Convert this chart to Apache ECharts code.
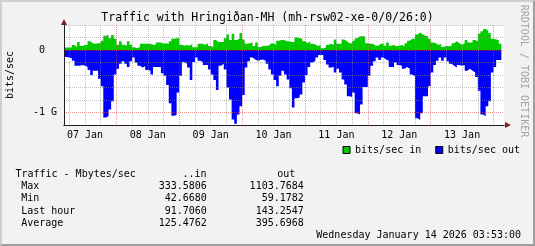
<!DOCTYPE html>
<html><head><meta charset="utf-8">
<script src="https://cdn.jsdelivr.net/npm/echarts@6/dist/echarts.min.js"></script>
<style>
html,body{margin:0;padding:0;background:#f2f2f2;}
#wrap{position:relative;width:535px;height:246px;}
#chart{position:absolute;left:0;top:0;width:535px;height:246px;}
#frame{position:absolute;left:0;top:0;width:535px;height:246px;box-sizing:border-box;border-style:solid;border-width:2px;border-color:#cfcfcf #9e9e9e #9e9e9e #cfcfcf;pointer-events:none;}
</style></head>
<body><div id="wrap"><div id="chart"></div><div id="frame"></div></div>
<script>
const MONO = '"DejaVu Sans Mono", monospace';
const chartTitle = 'Traffic with Hringiðan-MH (mh-rsw02-xe-0/0/26:0)';
const days = ['07 Jan','08 Jan','09 Jan','10 Jan','11 Jan','12 Jan','13 Jan','14 Jan'];
const firstHour = 4;          // first hourly slot: 07 Jan 04:00
const slotCount = 168;        // plot spans 7 days of hourly slots
const seriesNames = ['bits/sec in', 'bits/sec out'];
// hourly averages, Mbit/s
const inMbps = [
40,40,40,80,50,130,65,80,80,140,
110,100,110,110,150,230,240,190,240,180,
86,140,86,70,140,86,43,30,50,100,
100,100,100,86,80,120,120,100,110,100,
140,180,190,190,86,70,80,70,100,43,
43,100,100,86,110,65,50,160,130,130,
130,190,250,160,260,160,180,270,170,100,
110,120,65,120,50,65,70,70,100,110,
86,150,160,160,140,140,130,130,200,190,
180,140,110,140,100,90,60,86,30,40,
80,100,80,170,100,100,170,140,110,110,
150,190,220,220,220,110,100,100,70,70,
100,110,70,120,70,
80,60,70,80,60,110,150,180,180,250,
280,250,230,220,180,120,110,80,100,50,
65,60,65,110,140,110,86,110,160,120,
120,160,140,260,300,335,310,270,180,170,
160,100];
const outMbps = [
110,120,130,170,250,250,240,250,270,320,
400,330,330,460,580,1080,1060,950,820,390,
300,220,180,220,270,180,120,200,250,280,
260,320,330,390,270,270,270,370,410,560,
850,1050,1040,680,410,190,220,280,480,190,
120,170,190,240,240,310,390,480,640,250,
220,310,600,790,1110,1180,1030,900,720,280,
180,120,150,170,160,150,170,220,310,390,
480,580,410,330,390,470,610,920,770,760,
710,520,400,270,200,170,120,80,80,160,
230,280,270,360,300,360,470,550,740,750,
680,1010,1030,870,590,590,410,250,180,120,
160,120,150,170,270,
270,200,240,250,300,270,300,390,420,1090,
1120,1010,740,740,580,360,240,170,120,170,
120,180,220,250,280,240,250,240,330,300,
330,360,430,650,1030,1060,900,820,360,270,
160,160];
const yTickValues = [0, -1000];
const yTickTexts = ['0', '-1 G'];
const statLabels = ['Max', 'Min', 'Last hour', 'Average'];
const statIn = ['333.5806', '42.6680', '91.7060', '125.4762'];
const statOut = ['1103.7684', '59.1782', '143.2547', '395.6968'];
const tableHeader = ['Traffic - Mbytes/sec', '..in', 'out'];
const stamp = 'Wednesday January 14 2026 03:53:00';
const watermark = 'RRDTOOL / TOBI OETIKER';

// hour-boundary categories for the grid lines / day labels
const cats = [];
for (let k = 0; k <= slotCount; k++) {
  const h = firstHour + k;
  cats.push(days[Math.floor(h / 24)] + '|' + (h % 24));
}
const hourOf = i => (firstHour + i) % 24;

function stepPairs(vals, sign) {
  const out = [];
  vals.forEach((v, i) => { const x0 = firstHour + i; out.push([x0, sign * v], [x0 + 1, sign * v]); });
  return out;
}

const GRID = 'rgba(143,143,143,0.55)';
const MGRID = 'rgba(222,79,79,0.6)';
const AXIS = '#1f1f1f';
const ARROW = '#801f1f';

const chart = echarts.init(document.getElementById('chart'), null, {renderer: 'canvas'});
const txt = (x, y, text, align) => ({
  type: 'text', x: x, y: y, silent: true,
  style: {text: text, fill: '#000', font: '10px ' + MONO, align: align, verticalAlign: 'middle', textAlign: align, textVerticalAlign: 'middle'}
});
const graphics = [
  txt(15.4, 174, tableHeader[0], 'left'),
  txt(206.5, 174, tableHeader[1], 'right'),
  txt(295.2, 174, tableHeader[2], 'right')
];
statLabels.forEach((s, r) => {
  const y = 186.5 + r * 12.3;
  graphics.push(txt(21.2, y, s, 'left'));
  graphics.push(txt(206.8, y, statIn[r], 'right'));
  graphics.push(txt(303.8, y, statOut[r], 'right'));
});
graphics.push(txt(521, 235.7, stamp, 'right'));
graphics.push({
  type: 'text', x: 524, y: 71, rotation: -Math.PI / 2, silent: true,
  style: {text: watermark, fill: '#a3a3a3', font: '10px ' + MONO, align: 'center', verticalAlign: 'middle', textAlign: 'center', textVerticalAlign: 'middle'}
});

chart.setOption({
  animation: false,
  backgroundColor: '#f2f2f2',
  title: {
    text: chartTitle, left: 'center', top: 12, padding: 0,
    textStyle: {fontFamily: MONO, fontSize: 11.5, fontWeight: 'normal', color: '#000'}
  },
  legend: {
    data: seriesNames, right: 15, top: 145, padding: 0,
    itemWidth: 7, itemHeight: 7, itemGap: 14, icon: 'rect', selectedMode: false,
    itemStyle: {borderColor: '#000', borderWidth: 1},
    textStyle: {fontFamily: MONO, fontSize: 10, color: '#000'}
  },
  grid: {left: 64, top: 25, width: 440, height: 100, show: true, backgroundColor: '#ffffff', borderWidth: 0,
    containLabel: false, outerBoundsMode: 'none'},
  xAxis: [
    {
      type: 'value', min: firstHour, max: firstHour + slotCount, position: 'bottom', z: 6,
      axisLine: {show: true, onZero: false, lineStyle: {color: AXIS, width: 1}},
      axisTick: {show: false}, axisLabel: {show: false}, splitLine: {show: false}
    },
    {
      type: 'category', data: cats, boundaryGap: false, position: 'bottom', z: 5,
      axisLine: {show: false, onZero: false}, axisTick: {show: false},
      axisLabel: {
        interval: (i) => hourOf(i) === 12, margin: 5,
        formatter: v => v.split('|')[0],
        fontFamily: MONO, fontSize: 10, color: '#000'
      },
      splitLine: {show: true, interval: (i) => hourOf(i) % 6 === 0 && hourOf(i) !== 0,
        lineStyle: {color: GRID, width: 1, type: [1, 1]}}
    },
    {
      type: 'category', data: cats, boundaryGap: false, position: 'bottom', z: 5,
      axisLine: {show: true, onZero: false, lineStyle: {color: ARROW, width: 1},
        symbol: ['none', 'triangle'], symbolSize: [6, 6], symbolOffset: [0, 4]},
      axisTick: {show: false}, axisLabel: {show: false},
      splitLine: {show: true, interval: (i) => hourOf(i) === 0,
        lineStyle: {color: MGRID, width: 1, type: [1, 1]}}
    }
  ],
  yAxis: [
    {
      type: 'value', min: -1200, max: 400, interval: 200, position: 'left', z: 6,
      name: 'bits/sec', nameLocation: 'middle', nameGap: 49, nameRotate: 90,
      nameTextStyle: {fontFamily: MONO, fontSize: 10, color: '#000'},
      axisLine: {show: true, onZero: false, lineStyle: {color: AXIS, width: 1}},
      axisTick: {show: false},
      axisLabel: {
        margin: 7, fontFamily: MONO, fontSize: 10, color: '#000',
        formatter: v => { const k = yTickValues.indexOf(v); return k < 0 ? '' : (k === 0 ? yTickTexts[k].padEnd(3) : yTickTexts[k]); }
      },
      splitLine: {show: true, lineStyle: {
        color: ['rgba(0,0,0,0)', MGRID, GRID, GRID, GRID, GRID, MGRID, GRID, GRID],
        width: 1, type: [1, 1]}}
    },
    {
      type: 'value', min: -1200, max: 400, interval: 200, position: 'left', z: 5,
      axisLine: {show: true, onZero: false, lineStyle: {color: ARROW, width: 1},
        symbol: ['none', 'triangle'], symbolSize: [6, 6], symbolOffset: [0, 3]},
      axisTick: {show: false}, axisLabel: {show: false}, splitLine: {show: false}
    }
  ],
  series: [
    {
      name: seriesNames[0], type: 'line', xAxisIndex: 0, yAxisIndex: 0,
      data: stepPairs(inMbps, 1), symbol: 'none', showSymbol: false, silent: true, z: 2,
      lineStyle: {width: 0, color: '#00cc00'}, itemStyle: {color: '#00cc00'},
      areaStyle: {color: '#00cc00', opacity: 1}
    },
    {
      name: seriesNames[1], type: 'line', xAxisIndex: 0, yAxisIndex: 0,
      data: stepPairs(outMbps, -1), symbol: 'none', showSymbol: false, silent: true, z: 2,
      lineStyle: {width: 0, color: '#0000ff'}, itemStyle: {color: '#0000ff'},
      areaStyle: {color: '#0000ff', opacity: 1}
    }
  ],
  graphic: graphics
});
</script>
</body></html>
